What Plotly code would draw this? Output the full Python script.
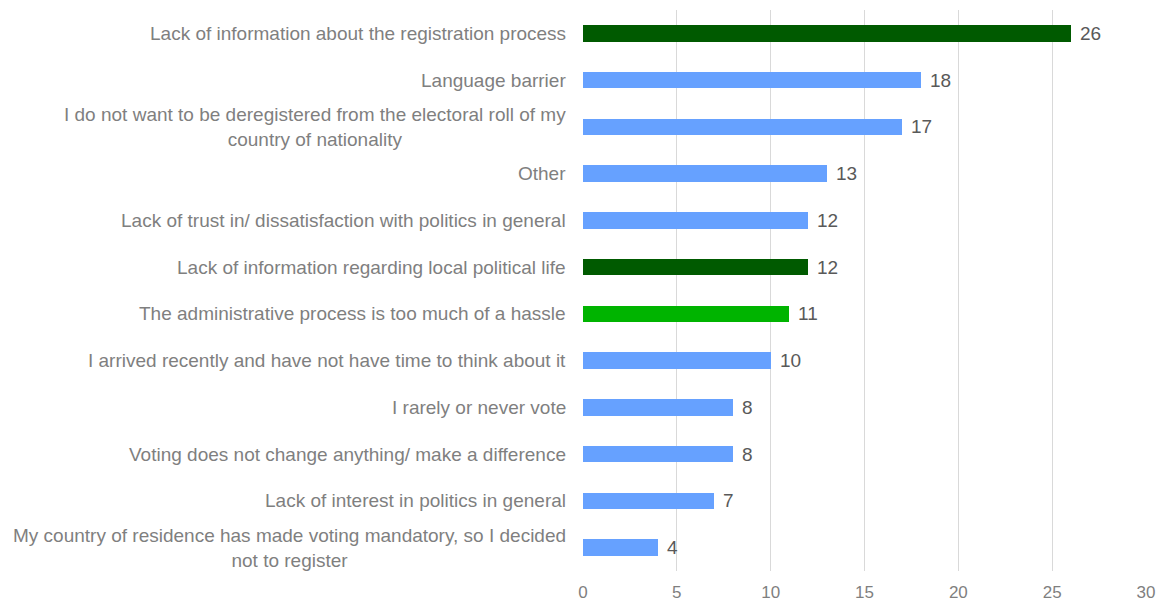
import plotly.graph_objects as go

categories = [
    "Lack of information about the registration process",
    "Language barrier",
    "I do not want to be deregistered from the electoral roll of my<br>country of nationality",
    "Other",
    "Lack of trust in/ dissatisfaction with politics in general",
    "Lack of information regarding local political life",
    "The administrative process is too much of a hassle",
    "I arrived recently and have not have time to think about it",
    "I rarely or never vote",
    "Voting does not change anything/ make a difference",
    "Lack of interest in politics in general",
    "My country of residence has made voting mandatory, so I decided<br>not to register",
]
values = [26, 18, 17, 13, 12, 12, 11, 10, 8, 8, 7, 4]
bar_colors = ["#005A00", "#66A1FF", "#66A1FF", "#66A1FF", "#66A1FF", "#005A00",
              "#00B400", "#66A1FF", "#66A1FF", "#66A1FF", "#66A1FF", "#66A1FF"]
x_ticks = [0, 5, 10, 15, 20, 25, 30]

FONT = "Liberation Sans, Arial"
ids = list(range(len(categories)))

fig = go.Figure(go.Bar(
    x=values, y=ids, orientation="h",
    marker=dict(color=bar_colors, line=dict(width=0)),
    width=0.35,
))

for i, c in enumerate(categories):
    fig.add_annotation(
        x=0, xref="paper", y=i, yref="y", text=c, showarrow=False,
        xanchor="right", yanchor="middle", align="center", xshift=-15,
        font=dict(family=FONT, size=19, color="#7F7F7F"),
    )

for i, v in enumerate(values):
    fig.add_annotation(
        x=v, xref="x", y=i, yref="y", text=str(v), showarrow=False,
        xanchor="left", yanchor="middle", xshift=7,
        font=dict(family=FONT, size=19, color="#595959"),
    )

fig.update_layout(
    width=1165, height=603,
    margin=dict(l=583, r=19, t=10, b=32, autoexpand=False),
    plot_bgcolor="white", paper_bgcolor="white",
    showlegend=False,
    bargap=0,
    font=dict(family=FONT, size=16, color="#7F7F7F"),
)
fig.update_xaxes(
    range=[0, 30], tickvals=x_ticks, ticktext=[str(t) for t in x_ticks],
    showgrid=True, gridcolor="#D9D9D9", gridwidth=1,
    zeroline=False, showline=False, ticks="",
    automargin=False, ticklabelstandoff=9,
    tickfont=dict(family=FONT, size=17, color="#7F7F7F"),
)
fig.update_yaxes(
    range=[len(categories) - 0.5, -0.5], showticklabels=False, automargin=False,
    showgrid=False, zeroline=False, showline=False, ticks="",
)

fig.write_html("out.html")
